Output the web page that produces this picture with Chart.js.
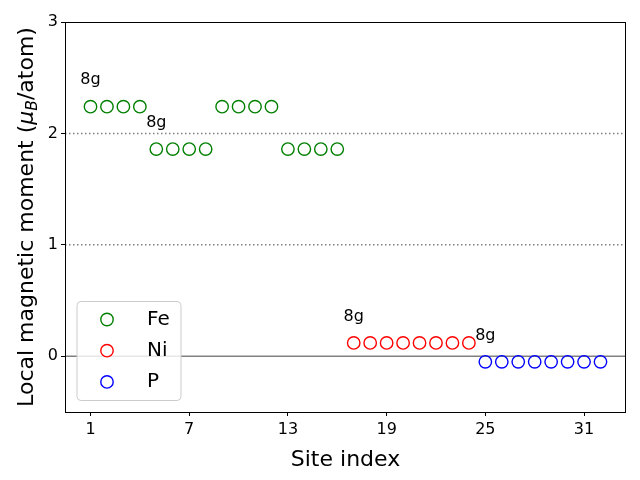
<!DOCTYPE html>
<html>
<head>
<meta charset="utf-8">
<script src="https://cdn.jsdelivr.net/npm/chart.js@4.4.0/dist/chart.umd.min.js"></script>
<style>
  html, body { margin: 0; padding: 0; background: #fff; }
  #wrap { width: 640px; height: 480px; }
</style>
</head>
<body>
<div id="wrap"><canvas id="chart" width="640" height="480"></canvas></div>
<script>
// site indices and local moments per species
const feSites = [1, 2, 3, 4, 5, 6, 7, 8, 9, 10, 11, 12, 13, 14, 15, 16];
const feMoments = [2.24, 2.24, 2.24, 2.24, 1.86, 1.86, 1.86, 1.86, 2.24, 2.24, 2.24, 2.24, 1.86, 1.86, 1.86, 1.86];
const niSites = [17, 18, 19, 20, 21, 22, 23, 24];
const niMoments = [0.12, 0.12, 0.12, 0.12, 0.12, 0.12, 0.12, 0.12];
const pSites = [25, 26, 27, 28, 29, 30, 31, 32];
const pMoments = [-0.05, -0.05, -0.05, -0.05, -0.05, -0.05, -0.05, -0.05];

const speciesNames = ["Fe", "Ni", "P"];
const speciesColors = ["#008000", "#ff0000", "#0000ff"];

// Wyckoff labels
const labelText = ["8g", "8g", "8g", "8g"];
const labelX = [1, 5, 17, 25];
const labelY = [2.44, 2.06, 0.32, 0.15];

const xTicks = [1, 7, 13, 19, 25, 31];
const yTicks = [0, 1, 2, 3];
const dottedLevels = [1, 2];
const solidLevels = [0];

const FONT = "'DejaVu Sans', sans-serif";

function pts(xs, ys) {
  return xs.map((x, i) => ({ x: x, y: ys[i] }));
}

const seriesX = [feSites, niSites, pSites];
const seriesY = [feMoments, niMoments, pMoments];

const datasets = speciesNames.map((name, i) => ({
  label: name,
  data: pts(seriesX[i], seriesY[i]),
  borderColor: speciesColors[i],
  backgroundColor: "rgba(0,0,0,0)",
  pointRadius: 6.2,
  pointBorderWidth: 1.4,
  pointStyle: "circle",
  showLine: false
}));

// reference lines + frame + annotations + titles + legend
const extras = {
  id: "extras",
  beforeDatasetsDraw(chart) {
    const { ctx, chartArea: a, scales: { y } } = chart;
    ctx.save();
    ctx.strokeStyle = "#808080";
    ctx.lineWidth = 1.5;
    ctx.setLineDash([1.5, 2.5]);
    dottedLevels.forEach(v => {
      const py = y.getPixelForValue(v);
      ctx.beginPath(); ctx.moveTo(a.left, py); ctx.lineTo(a.right, py); ctx.stroke();
    });
    ctx.setLineDash([]);
    solidLevels.forEach(v => {
      const py = y.getPixelForValue(v);
      ctx.beginPath(); ctx.moveTo(a.left, py); ctx.lineTo(a.right, py); ctx.stroke();
    });
    ctx.restore();
  },
  afterDatasetsDraw(chart) {
    const { ctx, chartArea: a, scales: { x, y } } = chart;
    ctx.save();
    // frame
    ctx.strokeStyle = "#000";
    ctx.lineWidth = 1;
    ctx.strokeRect(Math.round(a.left) + 0.5, Math.round(a.top) + 0.5,
      Math.round(a.right - a.left) - 1, Math.round(a.bottom - a.top));
    // 8g labels
    ctx.fillStyle = "#000";
    ctx.font = "16px " + FONT;
    ctx.textAlign = "center";
    ctx.textBaseline = "alphabetic";
    labelText.forEach((t, i) => {
      ctx.fillText(t, x.getPixelForValue(labelX[i]), y.getPixelForValue(labelY[i]));
    });

    // x title
    ctx.font = "22px " + FONT;
    ctx.fillText("Site index", (a.left + a.right) / 2, 466);

    // y title with mathtext-like mu_B
    const parts = [
      { t: "Local magnetic moment (", f: "22px " + FONT, dy: 0 },
      { t: "μ", f: "italic 22px " + FONT, dy: 0 },
      { t: "B", f: "italic 15.5px " + FONT, dy: 4 },
      { t: "/atom)", f: "22px " + FONT, dy: 0 }
    ];
    let total = 0;
    parts.forEach(p => { ctx.font = p.f; p.w = ctx.measureText(p.t).width; total += p.w; });
    ctx.translate(33, (a.top + a.bottom) / 2);
    ctx.rotate(-Math.PI / 2);
    ctx.textAlign = "left";
    let cx = -total / 2;
    parts.forEach(p => {
      ctx.font = p.f;
      ctx.fillText(p.t, cx, p.dy);
      cx += p.w;
    });
    ctx.restore();

    // legend box
    ctx.save();
    const bx = 77, by = 301.5, bw = 104, bh = 99, r = 4;
    ctx.beginPath();
    ctx.moveTo(bx + r, by);
    ctx.arcTo(bx + bw, by, bx + bw, by + bh, r);
    ctx.arcTo(bx + bw, by + bh, bx, by + bh, r);
    ctx.arcTo(bx, by + bh, bx, by, r);
    ctx.arcTo(bx, by, bx + bw, by, r);
    ctx.closePath();
    ctx.fillStyle = "rgba(255,255,255,0.8)";
    ctx.fill();
    ctx.strokeStyle = "#cccccc";
    ctx.lineWidth = 1;
    ctx.stroke();
    ctx.font = "20px " + FONT;
    ctx.textAlign = "left";
    ctx.textBaseline = "middle";
    speciesNames.forEach((name, i) => {
      const ry = 319.5 + i * 31.2;
      ctx.beginPath();
      ctx.arc(107, ry, 6.2, 0, Math.PI * 2);
      ctx.strokeStyle = speciesColors[i];
      ctx.lineWidth = 1.4;
      ctx.stroke();
      ctx.fillStyle = "#000";
      ctx.fillText(name, 147, ry);
    });
    ctx.restore();
  }
};

new Chart(document.getElementById("chart"), {
  type: "scatter",
  data: { datasets: datasets },
  options: {
    responsive: false,
    animation: false,
    layout: { padding: { top: 22, right: 14, left: 0, bottom: 0 } },
    plugins: { legend: { display: false }, tooltip: { enabled: false } },
    scales: {
      x: {
        type: "linear",
        min: -0.55,
        max: 33.55,
        afterBuildTicks: s => { s.ticks = xTicks.map(v => ({ value: v })); },
        afterFit: s => { s.height = 68; },
        grid: { drawOnChartArea: false, drawTicks: true, tickLength: 4, color: "#000", lineWidth: 1 },
        border: { display: false },
        ticks: { color: "#000", font: { family: FONT, size: 16 }, padding: 4, maxRotation: 0,
          callback: v => String(v) }
      },
      y: {
        type: "linear",
        min: -0.5,
        max: 3,
        afterBuildTicks: s => { s.ticks = yTicks.map(v => ({ value: v })); },
        afterFit: s => { s.width = 65; },
        grid: { drawOnChartArea: false, drawTicks: true, tickLength: 4, color: "#000", lineWidth: 1 },
        border: { display: false },
        ticks: { color: "#000", font: { family: FONT, size: 16 }, padding: 3,
          callback: v => String(v) }
      }
    }
  },
  plugins: [extras]
});
</script>
</body>
</html>
